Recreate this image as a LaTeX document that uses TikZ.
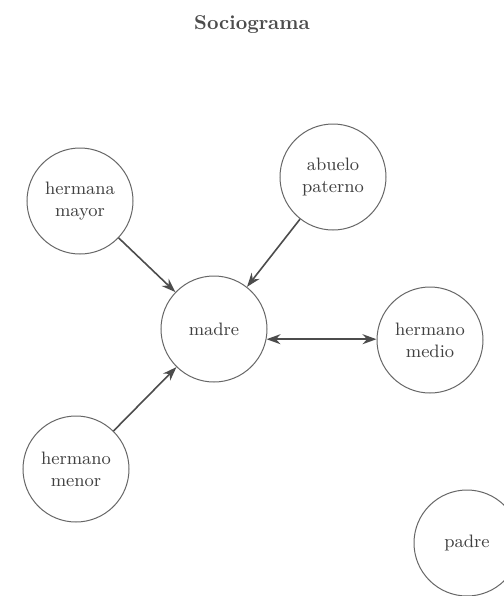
\documentclass[tikz,border=0pt]{standalone}
\usepackage{tikz}
\usetikzlibrary{arrows.meta,shapes}
\tikzstyle{persona}=[circle,draw=black!60,line width=0.5pt,minimum size=53pt,inner sep=0pt,align=center,text=black!75,font=\small]
\tikzstyle{relacion} = [draw,black!70,line width=0.8pt]
\tikzstyle{titulo} = [font=\bfseries,text=black!70]

\begin{document}
\begin{tikzpicture}[x=0.5pt,y=-0.5pt,>={Stealth[length=7pt,width=5pt]}]
                    \useasboundingbox (0,0) rectangle (504,596);

                    \node[titulo] (tit) at (252,25) {Sociograma};

                    \node[persona] (mayor) at (80,201) {hermana\\mayor};
                    \node[persona] (abuelo) at (333,177) {abuelo\\paterno};
                    \node[persona] (madre) at (214,329) {madre};
                    \node[persona] (medio) at (430,340) {hermano\\medio};
                    \node[persona] (menor) at (76,469) {hermano\\menor};
                    \node[persona] (padre) at (467,543) {padre};

                    \path[relacion,->] (mayor) -- (madre);
                    \path[relacion,->] (abuelo) -- (madre);
                    \path[relacion,->] (menor) -- (madre);
                    \path[relacion,<->] (madre.-11) -- (madre.-11 -| medio.west);
                \end{tikzpicture}
\end{document}
